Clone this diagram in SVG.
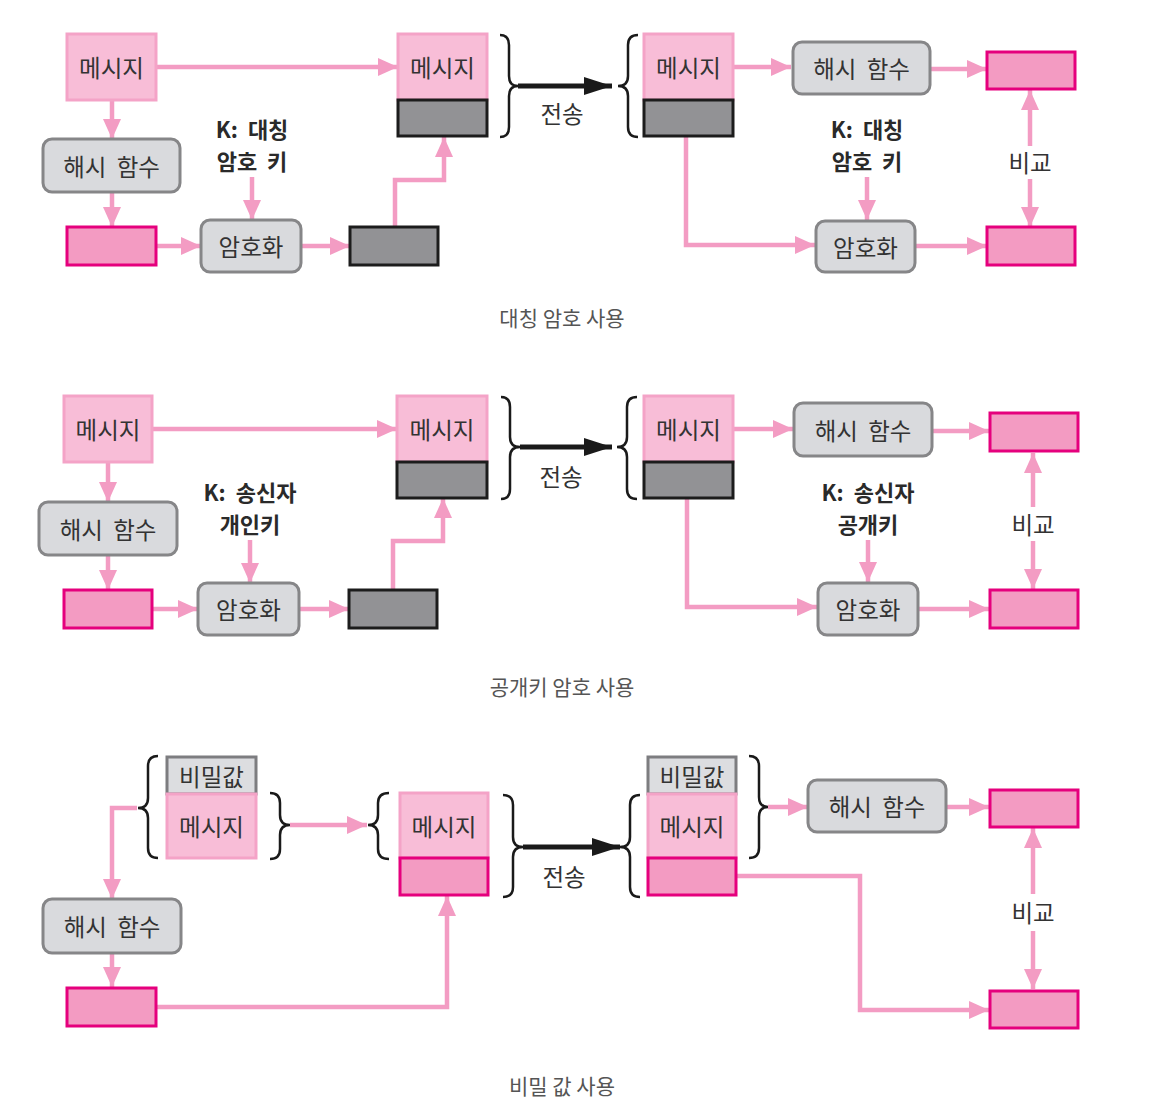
<svg xmlns="http://www.w3.org/2000/svg" width="1167" height="1107" viewBox="0 0 1167 1107">
<style>
.msg{fill:#f8bdd7;stroke:#f4a3c7;stroke-width:3}
.dig{fill:#f39bc2;stroke:#e5007d;stroke-width:3}
.cip{fill:#929295;stroke:#1c1c1c;stroke-width:3}
.fn{fill:#d9dadd;stroke:#868688;stroke-width:3}
.sec{fill:#dcdde0;stroke:#7d7d80;stroke-width:3}
.br{fill:none;stroke:#1a1a1a;stroke-width:2.5}
.pk{fill:none;stroke:#f39cc3;stroke-width:4.5}
.bk{fill:none;stroke:#1a1a1a;stroke-width:5}
text{font-family:"Noto Sans CJK KR","Noto Sans",sans-serif;fill:#333;text-anchor:middle;dominant-baseline:central}
.t{font-size:23.5px;word-spacing:5px}
.k{font-size:22px;font-weight:bold;fill:#2a2a2a;word-spacing:5px}
.cap{font-size:21px;fill:#555}
</style>
<defs>
<marker id="ap" markerUnits="userSpaceOnUse" markerWidth="20" markerHeight="18" refX="20" refY="9" orient="auto"><path d="M0,0 L20,9 L0,18 z" fill="#f39cc3"/></marker>
<marker id="ab" markerUnits="userSpaceOnUse" markerWidth="28" markerHeight="18" refX="28" refY="9" orient="auto"><path d="M0,0 L28,9 L0,18 z" fill="#1a1a1a"/></marker>
</defs>

<g id="connectors">
<!-- row 1 -->
<path class="pk" marker-end="url(#ap)" d="M157,67 H398"/>
<path class="pk" marker-end="url(#ap)" d="M112,100 V139"/>
<path class="pk" marker-end="url(#ap)" d="M112,192 V227"/>
<path class="pk" marker-end="url(#ap)" d="M156,246 H201"/>
<path class="pk" marker-end="url(#ap)" d="M252,177 V220"/>
<path class="pk" marker-end="url(#ap)" d="M302,246 H350"/>
<path class="pk" marker-end="url(#ap)" d="M395,227 V180 H444 V137"/>
<path class="bk" marker-end="url(#ab)" d="M518,86 H612"/>
<path class="pk" marker-end="url(#ap)" d="M733,67 H791"/>
<path class="pk" marker-end="url(#ap)" d="M931,69 H987"/>
<path class="pk" marker-end="url(#ap)" d="M1030,146 V90"/>
<path class="pk" marker-end="url(#ap)" d="M1030,179 V227"/>
<path class="pk" marker-end="url(#ap)" d="M686,137 V245 H815"/>
<path class="pk" marker-end="url(#ap)" d="M867,177 V220"/>
<path class="pk" marker-end="url(#ap)" d="M916,246 H987"/>
<!-- row 2 -->
<path class="pk" marker-end="url(#ap)" d="M153,429 H397"/>
<path class="pk" marker-end="url(#ap)" d="M108,462 V502"/>
<path class="pk" marker-end="url(#ap)" d="M108,555 V590"/>
<path class="pk" marker-end="url(#ap)" d="M152,609 H198"/>
<path class="pk" marker-end="url(#ap)" d="M250,540 V583"/>
<path class="pk" marker-end="url(#ap)" d="M300,609 H349"/>
<path class="pk" marker-end="url(#ap)" d="M393,590 V541 H443 V498"/>
<path class="bk" marker-end="url(#ab)" d="M520,447 H612"/>
<path class="pk" marker-end="url(#ap)" d="M733,429 H793"/>
<path class="pk" marker-end="url(#ap)" d="M933,431 H989"/>
<path class="pk" marker-end="url(#ap)" d="M1033,507 V453"/>
<path class="pk" marker-end="url(#ap)" d="M1033,541 V589"/>
<path class="pk" marker-end="url(#ap)" d="M687,498 V607 H817"/>
<path class="pk" marker-end="url(#ap)" d="M868,540 V582"/>
<path class="pk" marker-end="url(#ap)" d="M918,609 H989"/>
<!-- row 3 -->
<path class="pk" marker-end="url(#ap)" d="M137,808 H112 V899"/>
<path class="pk" marker-end="url(#ap)" d="M112,953 V987"/>
<path class="pk" marker-end="url(#ap)" d="M157,1007 H447 V896"/>
<path class="pk" marker-end="url(#ap)" d="M290,825 H367"/>
<path class="bk" marker-end="url(#ab)" d="M523,847 H620"/>
<path class="pk" marker-end="url(#ap)" d="M768,807 H808"/>
<path class="pk" marker-end="url(#ap)" d="M947,807 H989"/>
<path class="pk" marker-end="url(#ap)" d="M1033,894 V828"/>
<path class="pk" marker-end="url(#ap)" d="M1033,931 V989"/>
<path class="pk" marker-end="url(#ap)" d="M737,876 H860 V1010 H989"/>
</g>

<!-- ===== Row 1 ===== -->
<g id="r1-msg"><rect class="msg" x="67" y="34" width="89" height="66"/><text class="t" x="111.5" y="67">메시지</text></g>
<g id="r1-hash"><rect class="fn" x="43" y="139" width="137" height="53" rx="9"/><text class="t" x="111.5" y="165.5">해시 함수</text></g>
<g id="r1-digest"><rect class="dig" x="67" y="227" width="89" height="38"/></g>
<g id="r1-key"><text class="k"><tspan x="252" y="128">K: 대칭</tspan><tspan x="252" y="160">암호 키</tspan></text></g>
<g id="r1-enc"><rect class="fn" x="201" y="220" width="100" height="52" rx="9"/><text class="t" x="251" y="246">암호화</text></g>
<g id="r1-cipher"><rect class="cip" x="350" y="227" width="88" height="38"/></g>
<g id="r1-packet"><rect class="msg" x="398" y="34" width="89" height="66"/><text class="t" x="442.5" y="67">메시지</text><rect class="cip" x="398" y="100" width="89" height="36"/></g>
<g id="r1-send"><path class="br" d="M500,35 Q509,35 509,45 L509,76 Q509,86 518,86 Q509,86 509,96 L509,127 Q509,137 500,137"/><path class="br" d="M638,35 Q628,35 628,45 L628,76 Q628,86 618,86 Q628,86 628,96 L628,127 Q628,137 638,137"/><text class="t" x="562" y="113">전송</text></g>
<g id="r1-recv"><rect class="msg" x="644" y="34" width="89" height="66"/><text class="t" x="688.5" y="67">메시지</text><rect class="cip" x="644" y="100" width="89" height="36"/></g>
<g id="r1-hash2"><rect class="fn" x="793" y="42" width="137" height="52" rx="9"/><text class="t" x="861.5" y="68">해시 함수</text></g>
<g id="r1-digest2"><rect class="dig" x="987" y="52" width="88" height="37"/></g>
<g id="r1-cmp"><text class="t" x="1030" y="162">비교</text></g>
<g id="r1-key2"><text class="k"><tspan x="867" y="128">K: 대칭</tspan><tspan x="867" y="160">암호 키</tspan></text></g>
<g id="r1-enc2"><rect class="fn" x="816" y="221" width="99" height="51" rx="9"/><text class="t" x="865.5" y="246.5">암호화</text></g>
<g id="r1-digest3"><rect class="dig" x="987" y="227" width="88" height="38"/></g>
<text class="cap" x="562" y="317">대칭 암호 사용</text>

<!-- ===== Row 2 ===== -->
<g id="r2-msg"><rect class="msg" x="64" y="396" width="88" height="66"/><text class="t" x="108" y="429">메시지</text></g>
<g id="r2-hash"><rect class="fn" x="39" y="502" width="138" height="53" rx="9"/><text class="t" x="108" y="528.5">해시 함수</text></g>
<g id="r2-digest"><rect class="dig" x="64" y="590" width="88" height="38"/></g>
<g id="r2-key"><text class="k"><tspan x="250" y="491">K: 송신자</tspan><tspan x="250" y="523">개인키</tspan></text></g>
<g id="r2-enc"><rect class="fn" x="198" y="583" width="101" height="52" rx="9"/><text class="t" x="248.5" y="609">암호화</text></g>
<g id="r2-cipher"><rect class="cip" x="349" y="590" width="88" height="38"/></g>
<g id="r2-packet"><rect class="msg" x="397" y="396" width="90" height="66"/><text class="t" x="442" y="429">메시지</text><rect class="cip" x="397" y="462" width="90" height="36"/></g>
<g id="r2-send"><path class="br" d="M501,397 Q510,397 510,407 L510,437 Q510,447 520,447 Q510,447 510,457 L510,489 Q510,499 501,499"/><path class="br" d="M637,397 Q627,397 627,407 L627,437 Q627,447 617,447 Q627,447 627,457 L627,489 Q627,499 637,499"/><text class="t" x="561" y="476">전송</text></g>
<g id="r2-recv"><rect class="msg" x="644" y="396" width="89" height="66"/><text class="t" x="688.5" y="429">메시지</text><rect class="cip" x="644" y="462" width="89" height="36"/></g>
<g id="r2-hash2"><rect class="fn" x="794" y="403" width="138" height="53" rx="9"/><text class="t" x="863" y="429.5">해시 함수</text></g>
<g id="r2-digest2"><rect class="dig" x="990" y="413" width="88" height="38"/></g>
<g id="r2-cmp"><text class="t" x="1033" y="524">비교</text></g>
<g id="r2-key2"><text class="k"><tspan x="868" y="491">K: 송신자</tspan><tspan x="868" y="523">공개키</tspan></text></g>
<g id="r2-enc2"><rect class="fn" x="818" y="583" width="100" height="52" rx="9"/><text class="t" x="868" y="609">암호화</text></g>
<g id="r2-digest3"><rect class="dig" x="990" y="590" width="88" height="38"/></g>
<text class="cap" x="562" y="686">공개키 암호 사용</text>

<!-- ===== Row 3 ===== -->
<g id="r3-input"><path class="br" d="M158,756 Q148,756 148,766 L148,798 Q148,808 138,808 Q148,808 148,818 L148,848 Q148,858 158,858"/><rect class="sec" x="167" y="757" width="89" height="37"/><text class="t" x="211.5" y="775.5">비밀값</text><rect class="msg" x="167" y="794" width="89" height="64"/><text class="t" x="211.5" y="826">메시지</text><path class="br" d="M270,793 Q280,793 280,803 L280,815 Q280,825 290,825 Q280,825 280,835 L280,849 Q280,859 270,859"/></g>
<g id="r3-hash"><rect class="fn" x="43" y="899" width="138" height="54" rx="9"/><text class="t" x="112" y="926">해시 함수</text></g>
<g id="r3-digest"><rect class="dig" x="67" y="988" width="89" height="38"/></g>
<g id="r3-packet"><path class="br" d="M389,793 Q378,793 378,803 L378,815 Q378,825 368,825 Q378,825 378,835 L378,849 Q378,859 389,859"/><rect class="msg" x="400" y="793" width="88" height="65"/><text class="t" x="444" y="825.5">메시지</text><rect class="dig" x="400" y="858" width="88" height="37"/></g>
<g id="r3-send"><path class="br" d="M503,795 Q513,795 513,805 L513,837 Q513,847 523,847 Q513,847 513,857 L513,887 Q513,897 503,897"/><path class="br" d="M640,795 Q630,795 630,805 L630,837 Q630,847 620,847 Q630,847 630,857 L630,887 Q630,897 640,897"/><text class="t" x="564" y="876">전송</text></g>
<g id="r3-recv"><rect class="sec" x="648" y="757" width="88" height="37"/><text class="t" x="692" y="775.5">비밀값</text><rect class="msg" x="648" y="794" width="88" height="64"/><text class="t" x="692" y="826">메시지</text><rect class="dig" x="648" y="858" width="88" height="37"/><path class="br" d="M749,756 Q759,756 759,766 L759,797 Q759,807 768,807 Q759,807 759,817 L759,848 Q759,858 749,858"/></g>
<g id="r3-hash2"><rect class="fn" x="808" y="780" width="138" height="52" rx="9"/><text class="t" x="877" y="806">해시 함수</text></g>
<g id="r3-digest2"><rect class="dig" x="990" y="790" width="88" height="37"/></g>
<g id="r3-cmp"><text class="t" x="1033" y="912">비교</text></g>
<g id="r3-digest3"><rect class="dig" x="990" y="991" width="88" height="37"/></g>
<text class="cap" x="562" y="1085">비밀 값 사용</text>
</svg>
